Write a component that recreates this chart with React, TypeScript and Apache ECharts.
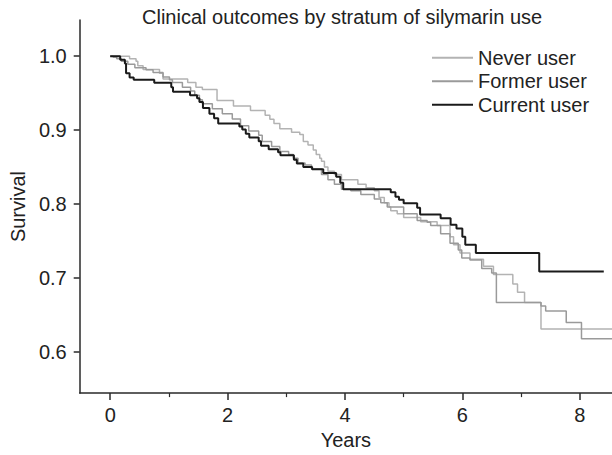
import React, { useEffect, useRef } from "react";
import * as echarts from "echarts";

const titleText = "Clinical outcomes by stratum of silymarin use";
const xName = "Years";
const yName = "Survival";
const xTicks = [0, 2, 4, 6, 8];
const xMinorTicks = [1, 3, 5, 7];
const yTicks = [0.6, 0.7, 0.8, 0.9, 1.0];
const seriesNames = ["Never user", "Former user", "Current user"];

const neverUser: [number, number][] = [
  [0, 1.0], [0.33, 0.9965], [0.44, 0.993], [0.47, 0.987], [0.56, 0.982],
  [0.84, 0.977], [0.9, 0.969], [1.32, 0.9645], [1.46, 0.958], [1.57, 0.955],
  [1.82, 0.94], [2.1, 0.9325], [2.39, 0.9267], [2.64, 0.92], [2.72, 0.9147],
  [2.79, 0.909], [2.89, 0.902], [3.09, 0.897], [3.23, 0.894], [3.29, 0.8845],
  [3.37, 0.88], [3.46, 0.873], [3.51, 0.867], [3.57, 0.862], [3.6, 0.858],
  [3.65, 0.85], [3.71, 0.8445], [3.82, 0.84], [3.94, 0.833], [4.22, 0.827],
  [4.36, 0.822], [4.5, 0.818], [4.58, 0.809], [4.67, 0.802], [4.75, 0.796],
  [4.78, 0.791], [4.89, 0.787], [5.0, 0.782], [5.29, 0.776], [5.57, 0.771],
  [5.79, 0.756], [5.85, 0.745], [5.96, 0.734], [6.13, 0.7255], [6.36, 0.716],
  [6.53, 0.705], [6.86, 0.692], [6.94, 0.681], [7.06, 0.667], [7.34, 0.631],
  [8.55, 0.631],
];

const formerUser: [number, number][] = [
  [0, 1.0], [0.05, 0.999], [0.11, 0.9965], [0.19, 0.993], [0.3, 0.989],
  [0.42, 0.9845], [0.61, 0.9816], [0.73, 0.978], [0.9, 0.972], [1.01, 0.968],
  [1.06, 0.9645], [1.23, 0.958], [1.37, 0.953], [1.44, 0.947], [1.52, 0.941],
  [1.57, 0.9356], [1.74, 0.929], [1.91, 0.922], [2.08, 0.915], [2.22, 0.906],
  [2.36, 0.899], [2.53, 0.893], [2.59, 0.8845], [2.75, 0.878], [2.89, 0.871],
  [3.04, 0.867], [3.12, 0.862], [3.2, 0.8556], [3.32, 0.853], [3.43, 0.8476],
  [3.6, 0.84], [3.71, 0.833], [3.82, 0.827], [3.94, 0.82], [4.1, 0.818],
  [4.27, 0.813], [4.5, 0.807], [4.61, 0.802], [4.72, 0.796], [5.0, 0.787],
  [5.23, 0.778], [5.4, 0.7756], [5.46, 0.771], [5.63, 0.76], [5.79, 0.747],
  [5.93, 0.738], [5.99, 0.727], [6.13, 0.7245], [6.33, 0.713], [6.5, 0.7067],
  [6.58, 0.667], [7.34, 0.6623], [7.42, 0.6556], [7.77, 0.64], [8.03, 0.618],
  [8.55, 0.618],
];

const currentUser: [number, number][] = [
  [0, 1.0], [0.17, 0.995], [0.25, 0.99], [0.27, 0.977], [0.33, 0.971],
  [0.4, 0.968], [0.75, 0.964], [1.04, 0.958], [1.07, 0.952], [1.36, 0.947],
  [1.48, 0.943], [1.52, 0.938], [1.58, 0.93], [1.69, 0.922], [1.77, 0.916],
  [1.84, 0.909], [2.2, 0.905], [2.25, 0.901], [2.31, 0.895], [2.37, 0.89],
  [2.53, 0.885], [2.57, 0.879], [2.7, 0.874], [2.86, 0.87], [2.9, 0.866],
  [3.13, 0.86], [3.18, 0.855], [3.29, 0.85], [3.44, 0.847], [3.63, 0.842],
  [3.85, 0.837], [3.92, 0.829], [3.97, 0.82], [4.78, 0.816], [4.86, 0.81],
  [4.92, 0.806], [5.0, 0.801], [5.23, 0.795], [5.28, 0.786], [5.63, 0.781],
  [5.8, 0.772], [5.9, 0.767], [6.0, 0.756], [6.05, 0.745], [6.23, 0.734],
  [7.31, 0.709], [8.41, 0.709],
];

const FONT = "'Liberation Sans', Arial, Helvetica, sans-serif";

export default function App() {
  const ref = useRef<HTMLDivElement>(null);
  useEffect(() => {
    document.body.style.margin = "0";
    if (!ref.current) return;
    const chart = echarts.init(ref.current, null, { renderer: "svg" });
    const axisColor = "#2a2a2a";
    chart.setOption({
      animation: false,
      backgroundColor: "#ffffff",
      textStyle: { fontFamily: FONT },
      title: {
        text: titleText,
        left: 142,
        top: 7,
        padding: 0,
        textStyle: { fontSize: 20, fontWeight: "normal", color: "#222", fontFamily: FONT },
      },
      legend: {
        orient: "vertical",
        left: 432,
        top: 46,
        padding: 0,
        itemGap: 0,
        itemWidth: 41,
        itemHeight: 2,
        icon: "rect",
        data: seriesNames,
        textStyle: { fontSize: 20, lineHeight: 23.5, color: "#222", fontFamily: FONT },
      },
      grid: { left: 76, right: 0, top: 20, bottom: 58, containLabel: false },
      xAxis: [
        {
          type: "value",
          min: -0.52,
          max: 8.55,
          name: xName,
          nameLocation: "middle",
          nameGap: 32,
          nameTextStyle: { fontSize: 20, color: "#222", fontFamily: FONT },
          axisLine: { show: true, onZero: false, lineStyle: { color: axisColor, width: 1.5 } },
          axisTick: { show: true, length: 7, customValues: xTicks, lineStyle: { color: axisColor, width: 1.5 } },
          axisLabel: {
            customValues: xTicks,
            fontSize: 20,
            color: "#222",
            margin: 12,
            fontFamily: FONT,
            formatter: (v: number) => String(v),
          },
          splitLine: { show: false },
        },
        {
          type: "value",
          min: -0.52,
          max: 8.55,
          position: "bottom",
          offset: 0,
          axisLine: { show: false, onZero: false },
          axisTick: { show: true, length: 4, customValues: xMinorTicks, lineStyle: { color: axisColor, width: 1.2 } },
          axisLabel: { show: false },
          splitLine: { show: false },
        },
      ],
      yAxis: {
        type: "value",
        min: 0.5445,
        max: 1.0489,
        name: yName,
        nameLocation: "middle",
        nameGap: 50,
        nameTextStyle: { fontSize: 20, color: "#222", fontFamily: FONT },
        axisLine: { show: true, onZero: false, lineStyle: { color: axisColor, width: 1.5 } },
        axisTick: { show: true, length: 6, customValues: yTicks, lineStyle: { color: axisColor, width: 1.5 } },
        axisLabel: {
          customValues: yTicks,
          fontSize: 20,
          color: "#222",
          margin: 13,
          fontFamily: FONT,
          formatter: (v: number) => v.toFixed(1),
        },
        splitLine: { show: false },
      },
      series: [
        {
          name: seriesNames[0],
          type: "line",
          step: "end",
          showSymbol: false,
          data: neverUser,
          color: "#b3b3b3",
          lineStyle: { color: "#b3b3b3", width: 1.5 },
          z: 2,
        },
        {
          name: seriesNames[1],
          type: "line",
          step: "end",
          showSymbol: false,
          data: formerUser,
          color: "#9a9a9a",
          lineStyle: { color: "#9a9a9a", width: 1.5 },
          z: 3,
        },
        {
          name: seriesNames[2],
          type: "line",
          step: "end",
          showSymbol: false,
          data: currentUser,
          color: "#1a1a1a",
          lineStyle: { color: "#1a1a1a", width: 2 },
          z: 4,
        },
      ],
    });
    return () => chart.dispose();
  }, []);
  return <div ref={ref} style={{ width: 612, height: 455 }} />;
}
